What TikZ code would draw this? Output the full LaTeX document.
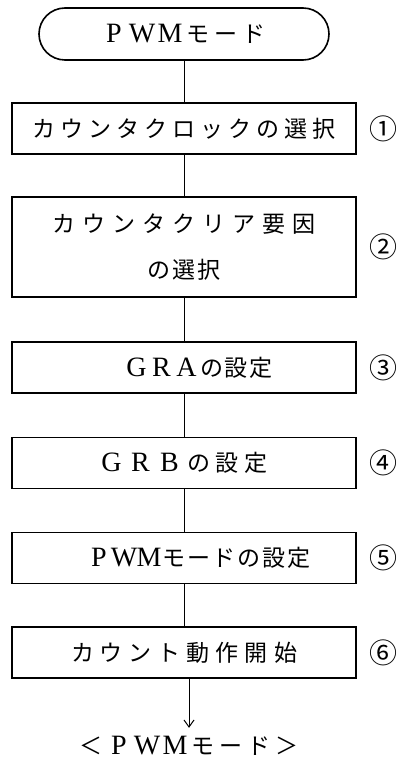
\documentclass[tikz,border=0pt]{standalone}
\usepackage{fontspec}
\usepackage{tikz}
\usetikzlibrary{arrows.meta, positioning}

\newfontfamily\jpfont{Noto Sans CJK JP}
\newfontfamily\latfont{Liberation Serif}
\newlength\pitch
\setlength\pitch{28pt}
% every character in a box of width \pitch, latin letters in the serif
\newcommand\spaced[1]{\spacedloop#1\relax}
\def\spacedloop#1{\ifx#1\relax\else\makebox[\pitch]{\ifnum`#1<128 \latfont\fontsize{28}{30}\selectfont\fi#1}\expandafter\spacedloop\fi}

\begin{document}
\begin{tikzpicture}[x=1pt, y=1pt, line width=1pt,
    stepbox/.style={draw, line width=1.6pt, minimum width=344pt, minimum height=51pt, inner sep=0pt, font=\fontsize{23}{30}\jpfont},
    termbox/.style={draw, line width=1.6pt, rounded corners=26pt, minimum width=290pt, minimum height=52pt, inner sep=0pt, font=\fontsize{23}{30}\jpfont},
    numlabel/.style={font=\fontsize{28}{30}\jpfont},
    flowarrow/.style={-{Straight Barb[length=7pt, width=10pt, line width=1pt]}}]
    \useasboundingbox (0,0) rectangle (404,-762);

    % Start terminal
    \node[termbox] (term) at (184,-34) {\spaced{PWMモード}};

    % Steps of the flow
    \node[stepbox] (clk) at (184,-128.5) {\spaced{カウンタクロックの選択}};
    \node[stepbox, minimum height=100pt, align=center, font=\fontsize{23}{46}\jpfont] (clr) at (184,-247)
        {\setlength\pitch{30pt}\spaced{カウンタクリア要因}\\{\setlength\pitch{25pt}\spaced{の選択}}};
    \node[stepbox] (gra) at (184,-367.5) {\hspace*{30pt}\setlength\pitch{25pt}\spaced{GRAの設定}};
    \node[stepbox] (grb) at (184,-463) {\setlength\pitch{29pt}\spaced{GRBの設定}};
    \node[stepbox] (mode) at (184,-558) {\hspace*{30pt}\setlength\pitch{25pt}\spaced{PWMモードの設定}};
    \node[stepbox] (run) at (184,-652.5) {\setlength\pitch{29pt}\spaced{カウント動作開始}};

    % Result
    \node[font=\fontsize{23}{30}\jpfont, inner sep=8pt] (res) at (189,-746) {\spaced{＜PWMモード＞}};

    % Step numbers
    \coordinate (numcol) at (383,0);
    \node[numlabel] (n1) at (clk -| numcol) {①};
    \node[numlabel] (n2) at (clr -| numcol) {②};
    \node[numlabel] (n3) at (gra -| numcol) {③};
    \node[numlabel] (n4) at (grb -| numcol) {④};
    \node[numlabel] (n5) at (mode -| numcol) {⑤};
    \node[numlabel] (n6) at (run -| numcol) {⑥};

    % Connectors
    \draw (term) -- (clk);
    \draw (clk) -- (clr);
    \draw (clr) -- (gra);
    \draw (gra) -- (grb);
    \draw (grb) -- (mode);
    \draw (mode) -- (run);
    \draw[flowarrow] (run.south -| res.north) -- (res.north);

\end{tikzpicture}
\end{document}
